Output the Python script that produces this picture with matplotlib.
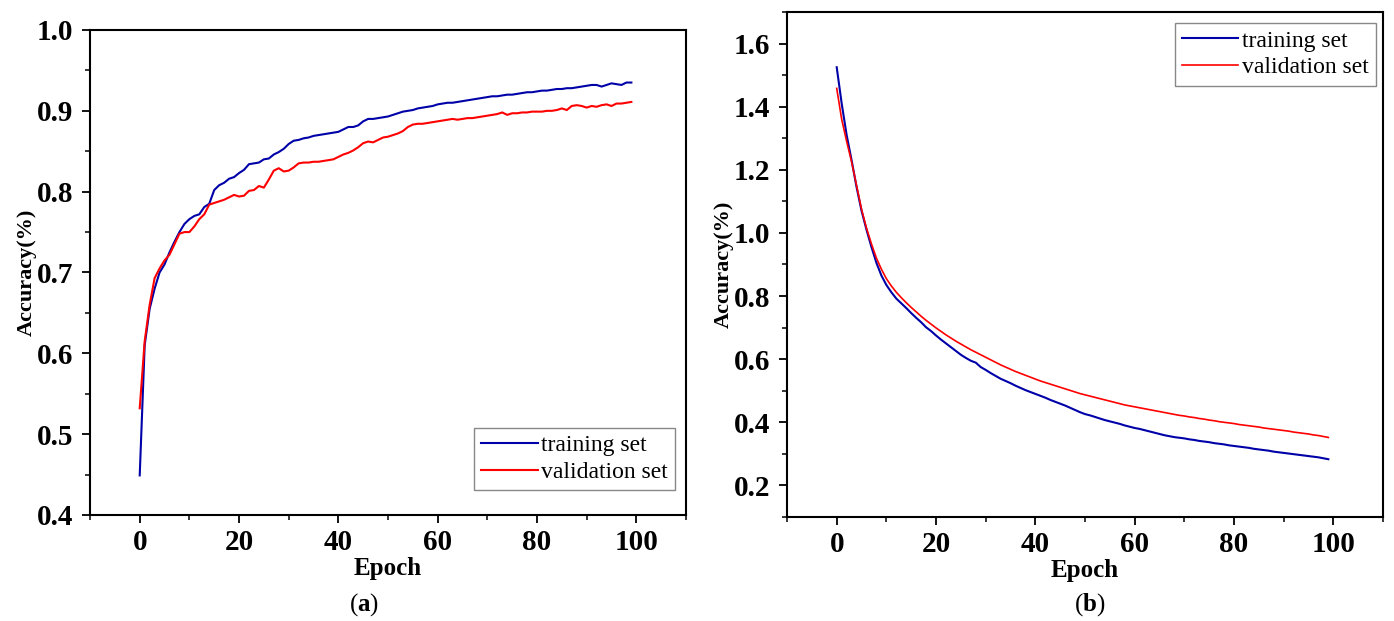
import numpy as np
import matplotlib.pyplot as plt
from matplotlib.ticker import MultipleLocator

plt.rcParams['font.family'] = 'Liberation Serif'
plt.rcParams['mathtext.fontset'] = 'custom'
plt.rcParams['mathtext.rm'] = 'Liberation Serif'
plt.rcParams['mathtext.bf'] = 'Liberation Serif:bold'

epochs = np.arange(100)

# (a) Genauigkeit
acc_train = [
    0.449, 0.610, 0.655, 0.680, 0.700, 0.710, 0.725, 0.738, 0.750, 0.760,
    0.766, 0.770, 0.772, 0.781, 0.785, 0.802, 0.808, 0.811, 0.816, 0.818,
    0.823, 0.827, 0.834, 0.835, 0.836, 0.840, 0.841, 0.846, 0.849, 0.853,
    0.859, 0.863, 0.864, 0.866, 0.867, 0.869, 0.870, 0.871, 0.872, 0.873,
    0.874, 0.877, 0.880, 0.880, 0.882, 0.887, 0.890, 0.890, 0.891, 0.892,
    0.893, 0.895, 0.897, 0.899, 0.900, 0.901, 0.903, 0.904, 0.905, 0.906,
    0.908, 0.909, 0.910, 0.910, 0.911, 0.912, 0.913, 0.914, 0.915, 0.916,
    0.917, 0.918, 0.918, 0.919, 0.920, 0.920, 0.921, 0.922, 0.923, 0.923,
    0.924, 0.925, 0.925, 0.926, 0.927, 0.927, 0.928, 0.928, 0.929, 0.930,
    0.931, 0.932, 0.932, 0.930, 0.932, 0.934, 0.933, 0.932, 0.935, 0.935,
]
acc_val = [
    0.532, 0.615, 0.660, 0.693, 0.705, 0.715, 0.722, 0.735, 0.748, 0.750,
    0.750, 0.757, 0.766, 0.772, 0.784, 0.786, 0.788, 0.790, 0.793, 0.796,
    0.794, 0.795, 0.801, 0.802, 0.807, 0.805, 0.815, 0.826, 0.829, 0.825,
    0.826, 0.830, 0.835, 0.836, 0.836, 0.837, 0.837, 0.838, 0.839, 0.840,
    0.843, 0.846, 0.848, 0.851, 0.855, 0.860, 0.862, 0.861, 0.864, 0.867,
    0.868, 0.870, 0.872, 0.875, 0.880, 0.883, 0.884, 0.884, 0.885, 0.886,
    0.887, 0.888, 0.889, 0.890, 0.889, 0.890, 0.891, 0.891, 0.892, 0.893,
    0.894, 0.895, 0.896, 0.898, 0.895, 0.897, 0.897, 0.898, 0.898, 0.899,
    0.899, 0.899, 0.900, 0.900, 0.901, 0.903, 0.901, 0.906, 0.907, 0.906,
    0.904, 0.906, 0.905, 0.907, 0.908, 0.906, 0.909, 0.909, 0.910, 0.911,
]

# (b) Verlust
loss_train = [
    1.525, 1.410, 1.310, 1.230, 1.145, 1.070, 1.010, 0.955, 0.905, 0.865,
    0.835, 0.812, 0.792, 0.777, 0.762, 0.746, 0.731, 0.717, 0.701, 0.689,
    0.675, 0.662, 0.650, 0.638, 0.626, 0.614, 0.604, 0.595, 0.589, 0.575,
    0.566, 0.556, 0.547, 0.538, 0.531, 0.524, 0.516, 0.509, 0.502, 0.496,
    0.490, 0.484, 0.478, 0.471, 0.465, 0.459, 0.453, 0.446, 0.439, 0.432,
    0.426, 0.422, 0.417, 0.412, 0.407, 0.403, 0.399, 0.395, 0.390, 0.386,
    0.382, 0.379, 0.375, 0.371, 0.367, 0.363, 0.359, 0.356, 0.353, 0.351,
    0.349, 0.346, 0.344, 0.341, 0.339, 0.337, 0.334, 0.332, 0.330, 0.327,
    0.325, 0.323, 0.321, 0.319, 0.316, 0.314, 0.312, 0.310, 0.307, 0.305,
    0.303, 0.301, 0.299, 0.297, 0.295, 0.293, 0.291, 0.289, 0.286, 0.283,
]
loss_val = [
    1.458, 1.360, 1.290, 1.225, 1.150, 1.075, 1.015, 0.965, 0.920, 0.885,
    0.855, 0.832, 0.812, 0.795, 0.779, 0.764, 0.750, 0.736, 0.723, 0.711,
    0.699, 0.688, 0.677, 0.667, 0.657, 0.648, 0.639, 0.630, 0.622, 0.614,
    0.606, 0.598, 0.590, 0.582, 0.575, 0.568, 0.561, 0.555, 0.549, 0.543,
    0.537, 0.531, 0.526, 0.521, 0.516, 0.511, 0.506, 0.501, 0.496, 0.491,
    0.487, 0.483, 0.479, 0.475, 0.471, 0.467, 0.463, 0.459, 0.455, 0.452,
    0.449, 0.446, 0.443, 0.440, 0.437, 0.434, 0.431, 0.428, 0.425, 0.422,
    0.420, 0.417, 0.415, 0.412, 0.410, 0.407, 0.405, 0.402, 0.400, 0.398,
    0.396, 0.393, 0.391, 0.389, 0.387, 0.385, 0.382, 0.380, 0.378, 0.376,
    0.374, 0.372, 0.369, 0.367, 0.365, 0.363, 0.360, 0.358, 0.355, 0.352,
]

blau = '#0000a8'
rot = '#ff0000'

fig = plt.figure(figsize=(13.94, 6.21), dpi=100)
ax1 = fig.add_axes([0.0646, 0.1707, 0.4275, 0.7810])
ax2 = fig.add_axes([0.5646, 0.1675, 0.4275, 0.8132])


def achse_stylen(ax, ymin, ymax, ymaj, ymin_step):
    ax.set_xlim(-10, 110)
    ax.set_ylim(ymin, ymax)
    ax.xaxis.set_major_locator(MultipleLocator(20))
    ax.xaxis.set_minor_locator(MultipleLocator(10))
    ax.yaxis.set_major_locator(MultipleLocator(ymaj))
    ax.yaxis.set_minor_locator(MultipleLocator(ymin_step))
    ax.yaxis.set_major_formatter(plt.FormatStrFormatter('%.1f'))
    ax.tick_params(which='major', direction='out', length=6, width=1.3,
                   labelsize=21)
    ax.tick_params(axis='x', which='major', pad=4)
    ax.tick_params(axis='y', which='major', pad=6)
    ax.tick_params(which='minor', direction='out', length=3.5, width=1.1)
    for lab in ax.get_xticklabels() + ax.get_yticklabels():
        lab.set_fontweight('bold')
    for sp in ax.spines.values():
        sp.set_linewidth(1.5)
    ax.set_xlabel('Epoch', fontsize=18, fontweight='bold', labelpad=1)
    ax.set_ylabel('Accuracy(%)', fontsize=16, fontweight='bold', labelpad=0)


def legende(ax, loc, anker):
    leg = ax.legend(loc=loc, bbox_to_anchor=anker, fontsize=17,
                    fancybox=False, edgecolor='#888888', framealpha=1,
                    borderaxespad=0, handlelength=2.4, handletextpad=0.15,
                    borderpad=0.3, labelspacing=0.22)
    leg.get_frame().set_linewidth(1.0)


ax1.plot(epochs, acc_train, color=blau, lw=1.5, label='training set')
ax1.plot(epochs, acc_val, color=rot, lw=1.5, label='validation set')
achse_stylen(ax1, 0.4, 1.0, 0.1, 0.05)
legende(ax1, 'lower right', (0.9815, 0.0515))

ax2.plot(epochs, loss_train, color=blau, lw=1.5, label='training set')
ax2.plot(epochs, loss_val, color=rot, lw=1.2, label='validation set')
achse_stylen(ax2, 0.1, 1.7, 0.2, 0.1)
legende(ax2, 'upper right', (0.988, 0.978))

fig.text(0.261, 0.016, r'($\mathbf{a}$)', fontsize=18, ha='center')
fig.text(0.782, 0.016, r'($\mathbf{b}$)', fontsize=18, ha='center')

fig.savefig('out.png', dpi=100)
